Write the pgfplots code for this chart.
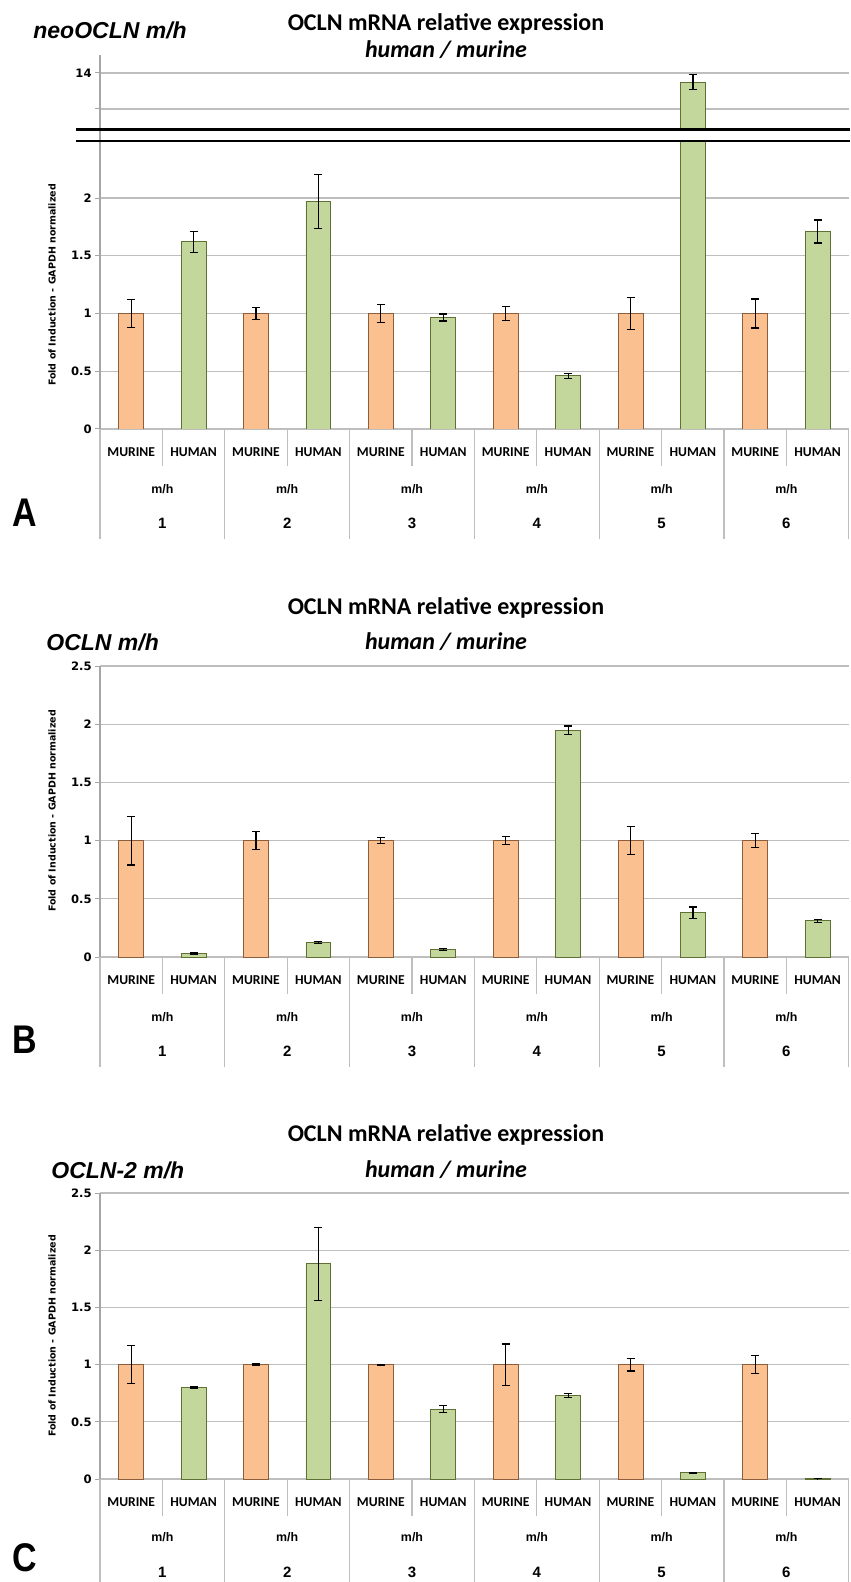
\documentclass[border=0pt]{standalone}
\usepackage{pgfplots}
\pgfplotsset{compat=1.18}
\usepackage{fontspec}
\setmainfont{Liberation Sans}
\newfontfamily\calb{Carlito}
\newfontfamily\dejav{DejaVu Sans}
\definecolor{orbar}{HTML}{FAC090}
\definecolor{orline}{HTML}{8C5E3C}
\definecolor{grbar}{HTML}{C3D69B}
\definecolor{grline}{HTML}{5E7034}
\definecolor{gridc}{HTML}{BEBEBE}
\definecolor{axc}{HTML}{A6A6A6}
\pgfplotsset{
  barpanel/.style={
    scale only axis, width=374.5pt, anchor=south west,
    xmin=-0.5, xmax=11.5, ymin=0,
    axis line style={draw=none},
    xtick=\empty,
    ytick pos=left, tick align=outside,
    major tick length=2.5pt,
    tick style={draw=axc, line width=0.5pt},
    ymajorgrids, grid style={draw=gridc, line width=0.6pt},
    yticklabel style={font=\dejav\bfseries\fontsize{5.8}{6}\selectfont, inner sep=1.5pt},
  },
  mur/.style={ybar, bar width=0.4, bar shift=0pt, fill=orbar, draw=orline, line width=0.45pt,
    error bars/.cd, y dir=both, y explicit,
    error bar style={black, line width=0.6pt},
    error mark options={black, rotate=90, mark size=2pt, line width=0.6pt}},
  hum/.style={ybar, bar width=0.4, bar shift=0pt, fill=grbar, draw=grline, line width=0.45pt,
    error bars/.cd, y dir=both, y explicit,
    error bar style={black, line width=0.6pt},
    error mark options={black, rotate=90, mark size=2pt, line width=0.6pt}},
}
\newcommand\titfont{\calb\bfseries\fontsize{12}{14}\selectfont}
\newcommand\genefont{\bfseries\itshape\fontsize{11.5}{13}\selectfont}
\newcommand\catfont{\calb\bfseries\fontsize{6.8}{8}\selectfont}
\newcommand\mhfont{\bfseries\fontsize{6.2}{7}\selectfont}
\newcommand\numfont{\bfseries\fontsize{7.5}{9}\selectfont}
\newcommand\ylabfont{\dejav\bfseries\fontsize{4.75}{5.5}\selectfont}
\newcommand\panfont{\bfseries\fontsize{20}{24}\selectfont}
% category decorations: #1 = y (px) of the zero line, #2 = m/h offset, #3 = number offset, #4 = bottom of separators
\newcommand\catarea[4]{%
  \foreach \g in {0,...,6} {\draw[gridc, line width=0.6pt] ({100+124.8*\g},#1) -- ({100+124.8*\g},#4);}
  \foreach \g in {0,...,5} {\draw[gridc, line width=0.6pt] ({162.4+124.8*\g},#1) -- ({162.4+124.8*\g},#1+37);
    \node[font=\catfont, inner sep=0] at ({131.2+124.8*\g},#1+23) {MURINE};
    \node[font=\catfont, inner sep=0] at ({193.6+124.8*\g},#1+23) {HUMAN};
    \node[font=\mhfont, inner sep=0] at ({162.4+124.8*\g},#1+#2) {m/h};
  }
  \foreach \g/\t in {0/1,1/2,2/3,3/4,4/5,5/6} {\node[font=\numfont, inner sep=0] at ({162.4+124.8*\g},#1+#3) {\t};}
}
\begin{document}
\begin{tikzpicture}
\path[use as bounding box] (0,0) rectangle (425pt,-791pt);

% ---------- Panel A ----------
\begin{axis}[barpanel, at={(50pt,-64.5pt)}, height=37pt,
  ymin=12.444, ymax=14.5, ytick={13,14}, yticklabels={,14}]
\addplot[hum] coordinates {(9,13.75) +- (0,0.2)};
\end{axis}
\begin{axis}[barpanel, at={(50pt,-214.5pt)}, height=144pt,
  ymax=2.494, ytick={0,0.5,1,1.5,2}, yticklabels={0,0.5,1,1.5,2}]
\addplot[mur] coordinates {(0,1) +- (0,0.12) (2,1) +- (0,0.05) (4,1) +- (0,0.075)
  (6,1) +- (0,0.06) (8,1) +- (0,0.14) (10,1) +- (0,0.125)};
\addplot[hum] coordinates {(1,1.62) +- (0,0.09) (3,1.97) +- (0,0.235) (5,0.965) +- (0,0.03)
  (7,0.46) +- (0,0.02) (9,13.75) +- (0,0.2) (11,1.71) +- (0,0.1)};
\end{axis}

% ---------- Panel B ----------
\begin{axis}[barpanel, at={(50pt,-478.5pt)}, height=145.5pt,
  ymax=2.5, ytick={0,0.5,1,1.5,2,2.5}, yticklabels={0,0.5,1,1.5,2,2.5}]
\addplot[mur] coordinates {(0,1) +- (0,0.21) (2,1) +- (0,0.075) (4,1) +- (0,0.025)
  (6,1) +- (0,0.035) (8,1) +- (0,0.12) (10,1) +- (0,0.06)};
\addplot[hum] coordinates {(1,0.03) +- (0,0.004) (3,0.125) +- (0,0.01) (5,0.063) +- (0,0.008)
  (7,1.95) +- (0,0.035) (9,0.38) +- (0,0.05) (11,0.31) +- (0,0.015)};
\end{axis}

% ---------- Panel C ----------
\begin{axis}[barpanel, at={(50pt,-739.5pt)}, height=143pt,
  ymax=2.5, ytick={0,0.5,1,1.5,2,2.5}, yticklabels={0,0.5,1,1.5,2,2.5}]
\addplot[mur] coordinates {(0,1) +- (0,0.165) (2,1) +- (0,0.005) (4,1) +- (0,0.003)
  (6,1) +- (0,0.18) (8,1) +- (0,0.055) (10,1) +- (0,0.08)};
\addplot[hum] coordinates {(1,0.80) +- (0,0.005) (3,1.88) +- (0,0.32) (5,0.61) +- (0,0.03)
  (7,0.73) +- (0,0.02) (9,0.055) +- (0,0.005) (11,0.003) +- (0,0.001)};
\end{axis}

\begin{scope}[x=0.5pt, y=-0.5pt]
% left axis lines
\draw[axc, line width=0.6pt] (100,55) -- (100,429);
\draw[axc, line width=0.6pt] (100,666) -- (100,957);
\draw[axc, line width=0.6pt] (100,1193) -- (100,1479);
% break in panel A
\fill[white] (100.8,131.5) rectangle (850,139);
\draw[black, line width=1.25pt] (76,129.5) -- (850,129.5);
\draw[black, line width=1.25pt] (76,141) -- (850,141);
% category areas
\catarea{429}{60}{94}{539}
\catarea{957}{60}{94}{1067}
\catarea{1479}{58}{93}{1590}
% titles
\node[font=\titfont, inner sep=0] at (446,24) {OCLN mRNA relative expression};
\node[font=\titfont\itshape, inner sep=0] at (446,50) {human / murine};
\node[font=\genefont, inner sep=0, anchor=west] at (33,30) {neoOCLN m/h};
\node[font=\titfont, inner sep=0] at (446,608) {OCLN mRNA relative expression};
\node[font=\titfont\itshape, inner sep=0] at (446,642) {human / murine};
\node[font=\genefont, inner sep=0, anchor=west] at (46,642) {OCLN m/h};
\node[font=\titfont, inner sep=0] at (446,1135) {OCLN mRNA relative expression};
\node[font=\titfont\itshape, inner sep=0] at (446,1170) {human / murine};
\node[font=\genefont, inner sep=0, anchor=west] at (51,1170) {OCLN-2 m/h};
% y labels
\node[font=\ylabfont, inner sep=0, rotate=90] at (52,285) {Fold of Induction - GAPDH normalized};
\node[font=\ylabfont, inner sep=0, rotate=90] at (52,811) {Fold of Induction - GAPDH normalized};
\node[font=\ylabfont, inner sep=0, rotate=90] at (52,1336) {Fold of Induction - GAPDH normalized};
% panel letters
\node[font=\panfont, inner sep=0, anchor=west, xscale=0.85] at (12,513) {A};
\node[font=\panfont, inner sep=0, anchor=west, xscale=0.85] at (12,1040) {B};
\node[font=\panfont, inner sep=0, anchor=west, xscale=0.85] at (12,1558) {C};
\end{scope}
\end{tikzpicture}
\end{document}
